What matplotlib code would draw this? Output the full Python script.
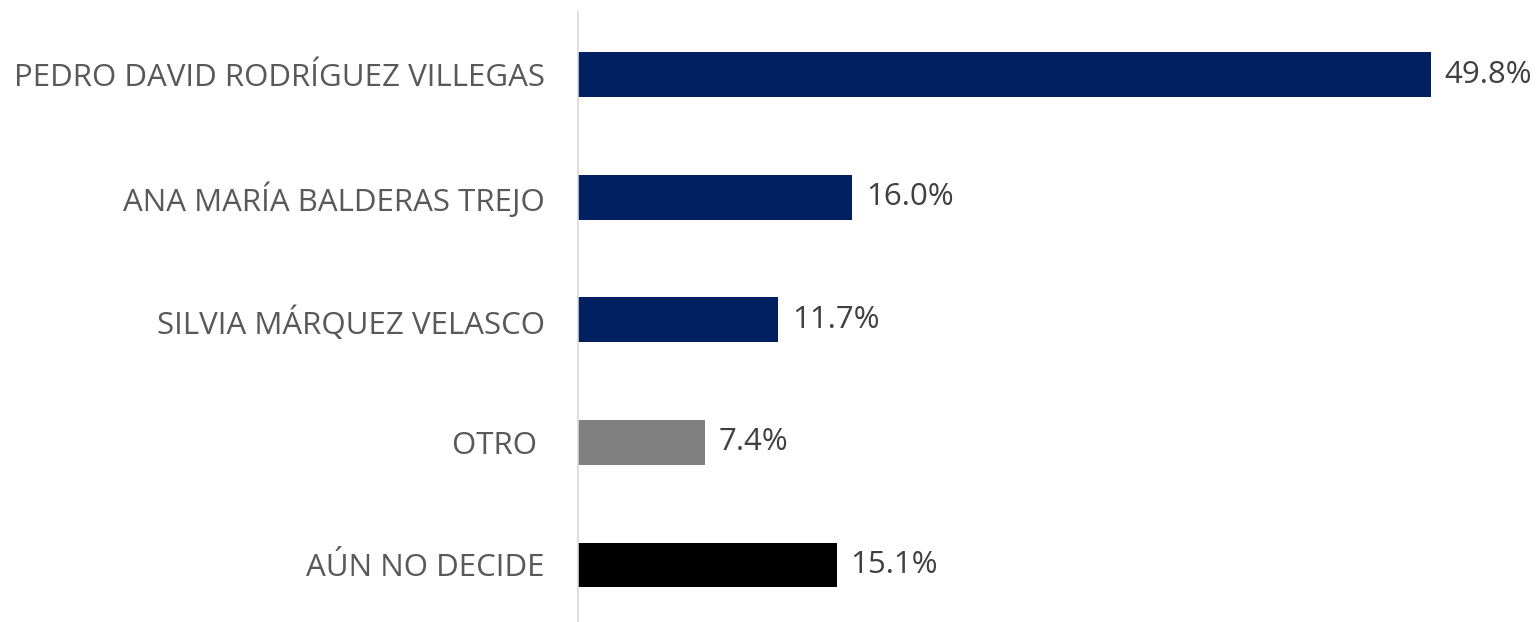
import matplotlib.pyplot as plt

# data
candidates = ["PEDRO DAVID RODRÍGUEZ VILLEGAS", "ANA MARÍA BALDERAS TREJO",
              "SILVIA MÁRQUEZ VELASCO", "OTRO ", "AÚN NO DECIDE"]
values = [49.8, 16.0, 11.7, 7.4, 15.1]
colors = ["#002060", "#002060", "#002060", "#808080", "#000000"]

plt.rcParams['font.family'] = ['Open Sans', 'DejaVu Sans']

fig = plt.figure(figsize=(15.4, 6.22), dpi=100)
ax = fig.add_axes([578/1540, 0, (1530-578)/1540, 610/622])

pos = list(range(len(values)))
ax.barh(pos, values, height=0.365, color=colors)
for p, v in zip(pos, values):
    ax.text(v + 0.8, p, "%.1f%%" % v, va='center', ha='left', fontsize=22.5, color='#404040')

ax.set_xlim(0, (1530-578)/(853/49.8))
ax.set_ylim(4.465, -0.51)
ax.set_yticks(pos)
ax.set_yticklabels(candidates, fontsize=22.5, color='#595959')
ax.tick_params(axis='y', length=0, pad=24)
ax.set_xticks([])
for s in ['top', 'right', 'bottom']:
    ax.spines[s].set_visible(False)
ax.spines['left'].set_color('#d9d9d9')
ax.spines['left'].set_linewidth(1.2)

fig.savefig("out.png", dpi=100)
